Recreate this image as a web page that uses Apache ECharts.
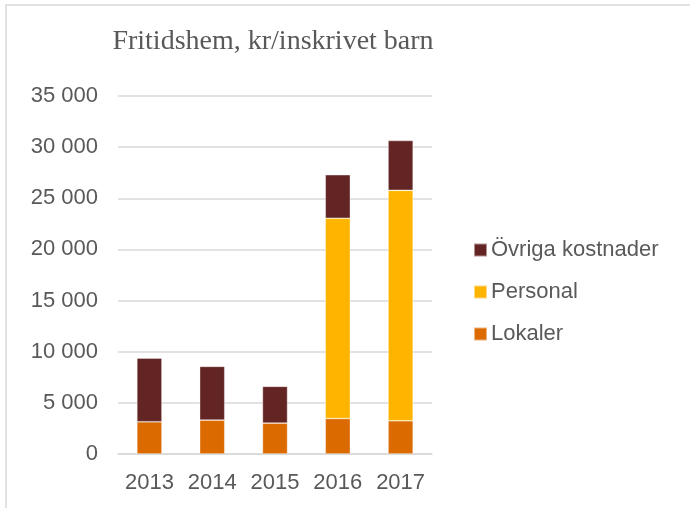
<!DOCTYPE html>
<html><head><meta charset="utf-8">
<script src="https://cdn.jsdelivr.net/npm/echarts@6/dist/echarts.min.js"></script>
<style>html,body{margin:0;padding:0;background:#fff}#c{width:690px;height:508px}</style>
</head><body><div id="c"></div>
<script>
const years = ['2013','2014','2015','2016','2017'];
const lokaler = [3150, 3310, 3020, 3470, 3250];
const personal = [null, null, null, 19580, 22530];
const ovriga = [6230, 5260, 3600, 4250, 4870];
const yTicks = [0, 5000, 10000, 15000, 20000, 25000, 30000, 35000];

const chart = echarts.init(document.getElementById('c'));
const txt = '#595959';
chart.setOption({
  animation: false,
  backgroundColor: '#fff',
  graphic: [{
    type: 'rect', silent: true, z: -1,
    shape: { x: 6, y: 5, width: 720, height: 540 },
    style: { fill: 'none', stroke: '#d9d9d9', lineWidth: 1.5 }
  }],
  title: {
    text: 'Fritidshem, kr/inskrivet barn',
    left: 268, top: 23, textAlign: 'center',
    textStyle: { fontFamily: 'Liberation Serif', fontWeight: 'normal', fontSize: 28, color: txt }
  },
  legend: {
    orient: 'vertical', left: 468, top: 234,
    itemWidth: 13, itemHeight: 13, itemGap: 20,
    icon: 'rect',
    data: ['Övriga kostnader', 'Personal', 'Lokaler'],
    textStyle: { fontFamily: 'Liberation Sans', fontSize: 22, color: txt, padding: [0, 0, 0, -1] }
  },
  grid: { left: 118, right: 258, top: 96, bottom: 54 },
  xAxis: {
    type: 'category', data: years,
    axisLine: { show: true, lineStyle: { color: '#d9d9d9', width: 1.5 } },
    axisTick: { show: false },
    axisLabel: { interval: 0, color: txt, fontFamily: 'Liberation Sans', fontSize: 22, margin: 18 }
  },
  yAxis: {
    type: 'value', min: yTicks[0], max: yTicks[yTicks.length - 1], interval: 5000,
    axisLine: { show: false }, axisTick: { show: false },
    splitLine: { lineStyle: { color: '#d9d9d9', width: 1.5 } },
    axisLabel: {
      color: txt, fontFamily: 'Liberation Sans', fontSize: 22, margin: 20,
      formatter: v => String(v).replace(/\B(?=(\d{3})+(?!\d))/g, ' ')
    }
  },
  series: [
    { name: 'Lokaler', type: 'bar', stack: 's', data: lokaler, barWidth: '40%',
      itemStyle: { color: '#DB6A00', borderColor: 'rgba(255,255,255,0.5)', borderWidth: 0.7 } },
    { name: 'Personal', type: 'bar', stack: 's', data: personal, barWidth: '40%',
      itemStyle: { color: '#FFB500', borderColor: 'rgba(255,255,255,0.5)', borderWidth: 0.7 } },
    { name: 'Övriga kostnader', type: 'bar', stack: 's', data: ovriga, barWidth: '40%',
      itemStyle: { color: '#632523', borderColor: 'rgba(255,255,255,0.5)', borderWidth: 0.7 } }
  ]
});
</script></body></html>
